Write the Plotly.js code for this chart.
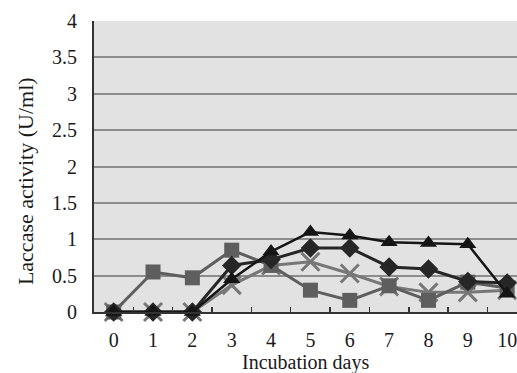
<!DOCTYPE html>
<html><head><meta charset="utf-8">
<script src="https://cdn.plot.ly/plotly-3.0.1.min.js"></script>
<style>html,body{margin:0;padding:0;background:#fff;}#chart{width:517px;height:373px;}</style>
</head><body><div id="chart"></div>
<script>
const days = ["0","1","2","3","4","5","6","7","8","9","10"];
const seriesTriangle = [0, 0, 0, 0.45, 0.83, 1.1, 1.05, 0.96, 0.95, 0.93, 0.25];
const seriesDiamond  = [0, 0, 0, 0.64, 0.72, 0.88, 0.88, 0.62, 0.59, 0.42, 0.4];
const seriesSquare   = [0, 0.55, 0.47, 0.85, 0.64, 0.3, 0.16, 0.36, 0.16, 0.41, 0.33];
const seriesCross    = [0, 0, 0, 0.37, 0.64, 0.69, 0.53, 0.35, 0.27, 0.27, 0.3];
const yTickVals = [0, 0.5, 1, 1.5, 2, 2.5, 3, 3.5, 4];
const yTickText = ['0', '0.5', '1', '1.5', '2', '2.5', '3', '3.5', '4'];

function tr(y, color, symbol, size, lw) {
  return {x: days, y: y, type: 'scatter', mode: 'lines+markers', cliponaxis: false,
    line: {color: color, width: lw},
    marker: {symbol: symbol, size: size, color: color, line: {width: 0}}};
}
const data = [
  tr(seriesCross, '#777777', 'x-thin-open', 18, 3),
  tr(seriesSquare, '#5e5e5e', 'square', 15, 3),
  tr(seriesDiamond, '#262626', 'diamond', 15, 3),
  tr(seriesTriangle, '#151515', 'triangle-up', 15, 2.5)
];
data[0].marker.line = {color: '#777777', width: 3};
const FAM = '"Liberation Serif", "Times New Roman", serif';
function f(s) { return {family: FAM, color: '#1a1a1a', size: s}; }
const layout = {
  width: 517, height: 373,
  margin: {l: 94, r: 0, t: 21, b: 61},
  paper_bgcolor: '#ffffff', plot_bgcolor: '#e2e2e2',
  showlegend: false, font: f(20),
  xaxis: {type: 'category', range: [-0.5, 10.25], tickson: 'boundaries', ticks: 'inside', ticklen: 5,
    tickcolor: '#333', tickwidth: 1.5, showline: true, linecolor: '#333', linewidth: 2,
    showgrid: false, zeroline: false, tickfont: f(20), ticklabelstandoff: 9},
  yaxis: {range: [0, 4], tickvals: yTickVals, ticktext: yTickText,
    showline: true, linecolor: '#333', linewidth: 2, ticks: '', showgrid: true, gridcolor: '#8c8c8c', gridwidth: 2,
    zeroline: false, tickfont: f(20), ticklabelstandoff: 11},
  annotations: [
    {text: 'Incubation days', xref: 'paper', yref: 'paper', x: 0.5, y: -0.172, xanchor: 'center', yanchor: 'middle',
     showarrow: false, font: f(20)},
    {text: 'Laccase activity (U/ml)', xref: 'paper', yref: 'paper', x: -0.163, y: 0.45, xanchor: 'center', yanchor: 'middle',
     textangle: -90, showarrow: false, font: f(22)}
  ]
};
Plotly.newPlot('chart', data, layout, {displayModeBar: false, staticPlot: true});
</script></body></html>
